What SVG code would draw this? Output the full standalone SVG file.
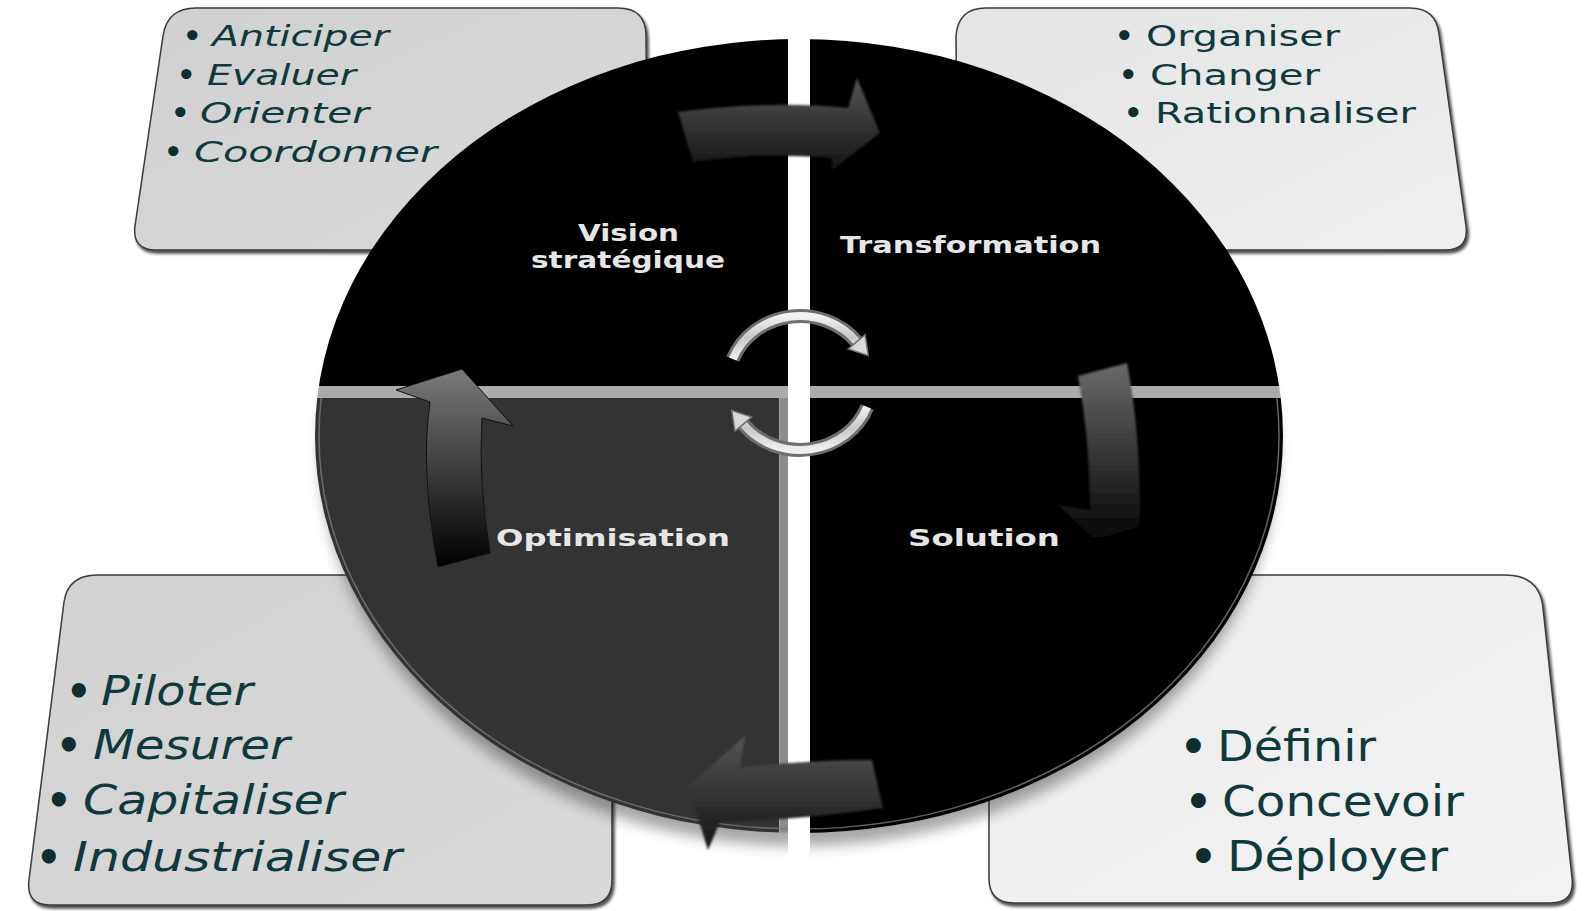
<svg xmlns="http://www.w3.org/2000/svg" width="1586" height="911" viewBox="0 0 1586 911">
<style>
.box-tl{fill:url(#gTL);stroke:#3a3a3a;stroke-width:1.5;filter:url(#boxShadow)}
.box-tr{fill:url(#gTR);stroke:#3a3a3a;stroke-width:1.5;filter:url(#boxShadow)}
.box-bl{fill:url(#gBL);stroke:#3a3a3a;stroke-width:1.5;filter:url(#boxShadow)}
.box-br{fill:url(#gBR);stroke:#3a3a3a;stroke-width:1.5;filter:url(#boxShadow)}
.it{font-family:"DejaVu Sans","Liberation Sans",sans-serif;font-style:italic;fill:#0f3a3c}
.up{font-family:"DejaVu Sans","Liberation Sans",sans-serif;fill:#0f3a3c}
.b{font-style:normal;font-weight:bold;fill:#0f2e30}
.lbl{font-family:"DejaVu Sans","Liberation Sans",sans-serif;font-weight:bold;fill:#e6e6e6;font-size:23px}
.ring-o{fill:none;stroke:#6e6e6e;stroke-width:14;stroke-linecap:butt}
.ring-i{fill:none;stroke:url(#gSilver);stroke-width:8;stroke-linecap:butt}
.head{fill:#d8d8d8;stroke:#6e6e6e;stroke-width:1.5;stroke-linejoin:miter}
</style>
<defs>
<filter id="boxShadow" x="-5%" y="-5%" width="110%" height="115%">
<feDropShadow dx="2" dy="3" stdDeviation="1.5" flood-color="#000" flood-opacity="0.7"/>
</filter>
<filter id="blur8" x="-10%" y="-10%" width="120%" height="130%">
<feGaussianBlur stdDeviation="7"/>
</filter>
<filter id="soft" x="-10%" y="-10%" width="120%" height="120%">
<feGaussianBlur stdDeviation="0.8"/>
</filter>
<linearGradient id="gTL" x1="0" y1="0" x2="1" y2="1"><stop offset="0" stop-color="#d0d0d0"/><stop offset="1" stop-color="#dadada"/></linearGradient>
<linearGradient id="gTR" x1="0" y1="0" x2="1" y2="1"><stop offset="0" stop-color="#e4e4e4"/><stop offset="1" stop-color="#efefef"/></linearGradient>
<linearGradient id="gBL" x1="0" y1="0" x2="1" y2="1"><stop offset="0" stop-color="#d2d2d2"/><stop offset="1" stop-color="#d8d8d8"/></linearGradient>
<linearGradient id="gBR" x1="0" y1="0" x2="1" y2="1"><stop offset="0" stop-color="#ececec"/><stop offset="1" stop-color="#f2f2f2"/></linearGradient>
<linearGradient id="gArrowH" x1="0" y1="0" x2="0" y2="1"><stop offset="0" stop-color="#555"/><stop offset="1" stop-color="#141414"/></linearGradient>
<linearGradient id="gArrowV" x1="0" y1="0" x2="0" y2="1"><stop offset="0" stop-color="#6a6a6a"/><stop offset="1" stop-color="#050505"/></linearGradient>
<linearGradient id="gArrowUp" x1="0" y1="0" x2="0" y2="1"><stop offset="0" stop-color="#7a7a7a"/><stop offset="1" stop-color="#000"/></linearGradient>
<linearGradient id="gSilver" x1="0" y1="0" x2="0" y2="1"><stop offset="0" stop-color="#f2f2f2"/><stop offset="0.5" stop-color="#c8c8c8"/><stop offset="1" stop-color="#f0f0f0"/></linearGradient>
<clipPath id="disk"><ellipse cx="799" cy="436" rx="484" ry="397"/></clipPath>
<clipPath id="lower"><rect x="0" y="398" width="1586" height="513"/></clipPath>
</defs>
<rect width="1586" height="911" fill="#ffffff"/>

<g id="box-top-left">
<path class="box-tl" d="M196,8 L618,8 Q646,8 646,36 L648,250 L156,250 Q132,250 135,226 L163,36 Q167,8 196,8 Z"/>
<text class="it" font-size="29"><tspan class="b" x="183" y="46">•</tspan><tspan x="212" y="46" textLength="177" lengthAdjust="spacingAndGlyphs">Anticiper</tspan></text>
<text class="it" font-size="29"><tspan class="b" x="177" y="85">•</tspan><tspan x="207" y="85" textLength="149" lengthAdjust="spacingAndGlyphs">Evaluer</tspan></text>
<text class="it" font-size="29"><tspan class="b" x="171" y="123">•</tspan><tspan x="200" y="123" textLength="169" lengthAdjust="spacingAndGlyphs">Orienter</tspan></text>
<text class="it" font-size="29"><tspan class="b" x="164" y="162">•</tspan><tspan x="194" y="162" textLength="243" lengthAdjust="spacingAndGlyphs">Coordonner</tspan></text>
</g>

<g id="box-top-right">
<path class="box-tr" d="M986,8 L1410,8 Q1436,8 1439,34 L1466,226 Q1469,250 1445,250 L958,250 L956,36 Q958,8 986,8 Z"/>
<text class="up" font-size="29"><tspan class="b" x="1115" y="46">•</tspan><tspan x="1146" y="46" textLength="194" lengthAdjust="spacingAndGlyphs">Organiser</tspan></text>
<text class="up" font-size="29"><tspan class="b" x="1119" y="85">•</tspan><tspan x="1150" y="85" textLength="170" lengthAdjust="spacingAndGlyphs">Changer</tspan></text>
<text class="up" font-size="29"><tspan class="b" x="1124" y="123">•</tspan><tspan x="1155" y="123" textLength="261" lengthAdjust="spacingAndGlyphs">Rationnaliser</tspan></text>
</g>

<g id="box-bottom-left">
<path class="box-bl" d="M97,575 L588,575 Q612,575 612,600 L612,880 Q612,905 587,905 L50,905 Q26,905 29,880 L64,602 Q68,575 97,575 Z"/>
<text class="it" font-size="40"><tspan class="b" x="66" y="705">•</tspan><tspan x="101" y="705" textLength="152" lengthAdjust="spacingAndGlyphs">Piloter</tspan></text>
<text class="it" font-size="40"><tspan class="b" x="56" y="759">•</tspan><tspan x="93" y="759" textLength="197" lengthAdjust="spacingAndGlyphs">Mesurer</tspan></text>
<text class="it" font-size="40"><tspan class="b" x="46" y="814">•</tspan><tspan x="83" y="814" textLength="261" lengthAdjust="spacingAndGlyphs">Capitaliser</tspan></text>
<text class="it" font-size="40"><tspan class="b" x="36" y="871">•</tspan><tspan x="73" y="871" textLength="329" lengthAdjust="spacingAndGlyphs">Industrialiser</tspan></text>
</g>

<g id="box-bottom-right">
<path class="box-br" d="M1010,575 L1505,575 Q1540,575 1543,608 L1572,878 Q1575,903 1550,903 L1014,903 Q989,903 989,878 L989,600 Q989,575 1010,575 Z"/>
<text class="up" font-size="42"><tspan class="b" x="1180" y="761">•</tspan><tspan x="1217" y="761" textLength="159" lengthAdjust="spacingAndGlyphs">Définir</tspan></text>
<text class="up" font-size="42"><tspan class="b" x="1185" y="816">•</tspan><tspan x="1222" y="816" textLength="242" lengthAdjust="spacingAndGlyphs">Concevoir</tspan></text>
<text class="up" font-size="42"><tspan class="b" x="1190" y="871">•</tspan><tspan x="1227" y="871" textLength="221" lengthAdjust="spacingAndGlyphs">Déployer</tspan></text>
</g>

<ellipse id="disk-shadow" cx="799" cy="454" rx="478" ry="392" fill="#000" opacity="0.35" filter="url(#blur8)"/>

<g id="disk-base" clip-path="url(#disk)">
<rect x="300" y="386" width="1000" height="12" fill="#ababab"/>
</g>

<g id="node-vision" clip-path="url(#disk)">
<rect x="300" y="0" width="490" height="386" fill="#000"/>
</g>
<g id="node-transformation" clip-path="url(#disk)">
<rect x="810" y="0" width="490" height="386" fill="#000"/>
</g>
<g id="node-optimisation" clip-path="url(#disk)">
<rect x="300" y="398" width="479" height="450" fill="#333333"/>
<rect x="780" y="398" width="8" height="450" fill="#8c8c8c"/>
</g>
<g id="node-solution" clip-path="url(#disk)">
<rect x="810" y="398" width="490" height="450" fill="#000"/>
</g>
<g id="disk-rim" clip-path="url(#lower)">
<ellipse cx="799" cy="436" rx="480" ry="393" fill="none" stroke="#7a7a7a" stroke-width="1.5" opacity="0.8"/>
</g>
<rect id="gap" x="788" y="0" width="22" height="880" fill="#ffffff"/>

<g id="labels">
<text class="lbl" x="578" y="241" textLength="101" lengthAdjust="spacingAndGlyphs">Vision</text>
<text class="lbl" x="531" y="268" textLength="194" lengthAdjust="spacingAndGlyphs">stratégique</text>
<text class="lbl" x="840" y="253" textLength="261" lengthAdjust="spacingAndGlyphs">Transformation</text>
<text class="lbl" x="496" y="546" textLength="234" lengthAdjust="spacingAndGlyphs">Optimisation</text>
<text class="lbl" x="908" y="546" textLength="152" lengthAdjust="spacingAndGlyphs">Solution</text>
</g>

<g id="connectors">
<path id="arrow-top" fill="url(#gArrowH)" filter="url(#soft)" d="M678,112 Q770,100 848,108 L857,78 L880,133 L832,170 L832,158 Q760,152 693,162 Z"/>
<path id="arrow-right" fill="url(#gArrowV)" filter="url(#soft)" d="M1078,376 L1127,363 Q1140,430 1140,513 L1138,527 L1095,540 L1058,505 L1090,510 Q1090,440 1078,376 Z"/>
<path id="arrow-bottom" fill="url(#gArrowH)" filter="url(#soft)" d="M872,760 L883,808 Q800,820 720,822 L708,850 L688,786 L745,736 L740,768 Q800,760 872,760 Z"/>
<path id="arrow-left" fill="url(#gArrowUp)" stroke="#111" stroke-width="1" d="M462,369 L513,426 L482,418 Q478,480 490,553 L438,567 Q420,470 430,402 L396,390 Z"/>
<g id="cycle-top">
<path class="ring-o" d="M732.8,359 A72,67 0 0 1 856.7,341.8"/>
<path class="ring-i" d="M732.8,359 A72,67 0 0 1 856.7,341.8"/>
<polygon class="head" points="868.3,355.6 865.1,334.7 848.3,348.9"/>
</g>
<g id="cycle-bottom">
<path class="ring-o" d="M867.2,407 A72,67 0 0 1 743.3,424.2"/>
<path class="ring-i" d="M867.2,407 A72,67 0 0 1 743.3,424.2"/>
<polygon class="head" points="731.7,410.4 751.7,417.1 734.9,431.3"/>
</g>
</g>
</svg>
